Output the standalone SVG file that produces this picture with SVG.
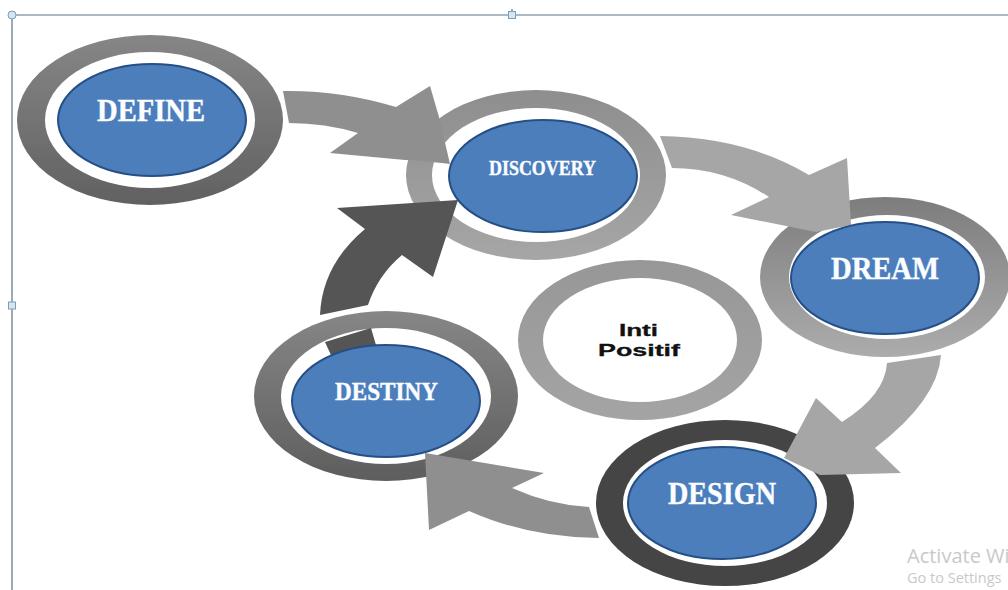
<svg xmlns="http://www.w3.org/2000/svg" width="1008" height="590" viewBox="0 0 1008 590">
<style>
.hole{fill:#fff}
.blue{fill:#4c7ebc;stroke:#254f85;stroke-width:2}
.lab{font-family:"Liberation Serif",Cambria,serif;font-weight:700;fill:#fbfdff;stroke:#fbfdff;stroke-width:.4;text-anchor:start}
.inti{font-family:"Liberation Sans",Arial,sans-serif;font-weight:700;fill:#111;stroke:#111;stroke-width:.3;font-size:17px}
.frame{stroke:#5a7387;stroke-width:1.2;fill:none}
.handle{fill:#d3e6f2;stroke:#7f9cb3;stroke-width:1}
.wm{font-family:"Open Sans","Noto Sans",sans-serif;fill:#c9c9c9}
.soft{filter:url(#soft)}
</style>
<defs>
<filter id="soft" x="-5%" y="-5%" width="110%" height="110%"><feGaussianBlur stdDeviation="0.7"/></filter>
<linearGradient id="gDefine" x1="0" y1="0" x2="0" y2="1"><stop offset="0" stop-color="#868686"/><stop offset="1" stop-color="#616161"/></linearGradient>
<linearGradient id="gDiscovery" x1="0" y1="0" x2="0" y2="1"><stop offset="0" stop-color="#8e8e8e"/><stop offset="1" stop-color="#a6a6a6"/></linearGradient>
<linearGradient id="gDream" x1="0" y1="0" x2="0" y2="1"><stop offset="0" stop-color="#7d7d7d"/><stop offset="1" stop-color="#acacac"/></linearGradient>
<linearGradient id="gDestiny" x1="0" y1="0" x2="0" y2="1"><stop offset="0" stop-color="#868686"/><stop offset="1" stop-color="#5e5e5e"/></linearGradient>
<linearGradient id="gInti" x1="0" y1="0" x2="0" y2="1"><stop offset="0" stop-color="#979797"/><stop offset="1" stop-color="#a4a4a4"/></linearGradient>
</defs>
<rect width="1008" height="590" fill="#fff"/>

<g id="frame">
<path class="frame" d="M12 15H1008M12 15V590M512 9V15"/>
<circle class="handle" cx="12" cy="15" r="4"/>
<rect class="handle" x="508.500" y="11.500" width="7" height="7"/>
<rect class="handle" x="8.500" y="302" width="7" height="7"/>
</g>

<g id="rings" class="soft">
<g id="ring-define"><ellipse cx="150" cy="120" rx="133" ry="85" fill="url(#gDefine)"/><ellipse class="hole" cx="150" cy="120" rx="105" ry="68"/></g>
<g id="ring-discovery"><ellipse cx="536" cy="175" rx="130" ry="85" fill="url(#gDiscovery)"/><ellipse class="hole" cx="536" cy="175" rx="104" ry="67"/></g>
<g id="ring-dream"><ellipse cx="885" cy="277" rx="125" ry="80" fill="url(#gDream)"/><ellipse class="hole" cx="887" cy="277" rx="98" ry="62"/></g>
<g id="ring-design"><ellipse cx="725" cy="503" rx="129" ry="83" fill="#444"/><ellipse class="hole" cx="725" cy="503" rx="102" ry="63"/></g>
<g id="ring-destiny"><ellipse cx="386" cy="396" rx="132" ry="85" fill="url(#gDestiny)"/><ellipse class="hole" cx="386" cy="396" rx="105" ry="68"/></g>
</g>

<g id="connectors" class="soft">
<path id="arrow-define-discovery" fill="#8f8f8f" d="M283 91Q340 90 396 107L430 86L439 117L450 164Q415 160 405 160L330 153L358 133Q325 123 289 123Z"/>
<path id="arrow-discovery-dream" fill="#a6a6a6" d="M660 136Q745 137 809 175L847 158L851 225L816 232L731 215L769 197Q725 168 672 168Z"/>
<path id="arrow-dream-design" fill="#a6a6a6" d="M941 355Q938 400 875 448L901 473L820 475L784 458L816 398L842 422Q885 395 887 363Z"/>
<path id="arrow-design-destiny" fill="#8f8f8f" d="M589 507Q550 505 512 488L544 473L425 453L429 530L469 511Q530 538 599 538Z"/>
<path id="arrow-destiny-discovery" fill="#545454" d="M320 315Q322 265 365 229L337 208L458 200L433 277L402 255Q378 275 368 305ZM325 342L371 328L378 352L335 364Z"/>
</g>

<g id="node-define"><ellipse class="blue" cx="152" cy="120" rx="94" ry="56"/><text class="lab" x="97" y="121" font-size="31" textLength="108" lengthAdjust="spacingAndGlyphs">DEFINE</text></g>
<g id="node-discovery"><ellipse class="blue" cx="543" cy="176" rx="94" ry="56"/><text class="lab" x="489" y="175" font-size="20" textLength="107" lengthAdjust="spacingAndGlyphs">DISCOVERY</text></g>
<g id="node-dream"><ellipse class="blue" cx="885" cy="278" rx="94" ry="56"/><text class="lab" x="831" y="279" font-size="31" textLength="108" lengthAdjust="spacingAndGlyphs">DREAM</text></g>
<g id="node-design"><ellipse class="blue" cx="722" cy="503" rx="94" ry="56"/><text class="lab" x="668" y="504" font-size="31" textLength="108" lengthAdjust="spacingAndGlyphs">DESIGN</text></g>
<g id="node-destiny"><ellipse class="blue" cx="386" cy="401" rx="94" ry="56"/><text class="lab" x="335" y="400" font-size="25" textLength="103" lengthAdjust="spacingAndGlyphs">DESTINY</text></g>
<g id="node-inti">
<g class="soft"><ellipse cx="640" cy="340" rx="122" ry="80" fill="url(#gInti)"/><ellipse class="hole" cx="640" cy="340" rx="97" ry="62"/></g>
<text class="inti" x="619" y="336" textLength="39" lengthAdjust="spacingAndGlyphs">Inti</text>
<text class="inti" x="598" y="356" textLength="82" lengthAdjust="spacingAndGlyphs">Positif</text>
</g>

<g id="watermark">
<text class="wm" x="907" y="563" font-size="20">Activate Wi</text>
<text class="wm" x="907" y="583" font-size="14.500">Go to Settings</text>
</g>
</svg>
